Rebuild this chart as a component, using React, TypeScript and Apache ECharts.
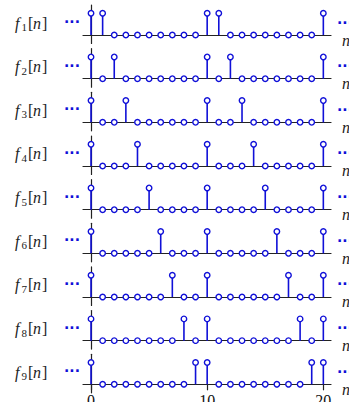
import { useEffect, useRef } from 'react';
import * as echarts from 'echarts';

// sample index n shown on every row
const nValues = [0, 1, 2, 3, 4, 5, 6, 7, 8, 9, 10, 11, 12, 13, 14, 15, 16, 17, 18, 19, 20];
// positions of the unit stems for f_1 ... f_9
const stemsF1 = [0, 1, 10, 11, 20];
const stemsF2 = [0, 2, 10, 12, 20];
const stemsF3 = [0, 3, 10, 13, 20];
const stemsF4 = [0, 4, 10, 14, 20];
const stemsF5 = [0, 5, 10, 15, 20];
const stemsF6 = [0, 6, 10, 16, 20];
const stemsF7 = [0, 7, 10, 17, 20];
const stemsF8 = [0, 8, 10, 18, 20];
const stemsF9 = [0, 9, 10, 19, 20];
const rowStems = [stemsF1, stemsF2, stemsF3, stemsF4, stemsF5, stemsF6, stemsF7, stemsF8, stemsF9];
const rowSubscripts = ['1', '2', '3', '4', '5', '6', '7', '8', '9'];
const tickValues = [0, 10, 20];

const BLUE = '#1010d8';
const DARK = '#222';
const SERIF = '"Liberation Serif", "DejaVu Serif", serif';

export default function App() {
  const ref = useRef<HTMLDivElement>(null);
  useEffect(() => {
    if (!ref.current) return;
    const chart = echarts.init(ref.current, null, { renderer: 'svg' });
    const base0 = 35;
    const gap = 43.66;
    const grids: any[] = [];
    const xAxes: any[] = [];
    const yAxes: any[] = [];
    const series: any[] = [];
    const graphics: any[] = [];
    rowStems.forEach((stems, i) => {
      const b = base0 + i * gap;
      const last = i === rowStems.length - 1;
      grids.push({ left: 83, width: 248, top: b - 30, height: 38.5, outerBoundsMode: 'none', containLabel: false });
      xAxes.push({
        type: 'value', gridIndex: i, min: -0.69, max: 20.66,
        axisLine: { show: true, onZero: true, lineStyle: { color: DARK, width: 1.2 } },
        axisTick: last
          ? { show: true, customValues: tickValues, length: 6, lineStyle: { color: DARK, width: 1.2 } }
          : { show: false },
        axisLabel: last
          ? { show: true, customValues: tickValues, margin: 0, fontFamily: SERIF, fontSize: 16, color: '#111' }
          : { show: false },
        splitLine: { show: false },
      });
      yAxes.push({
        type: 'value', gridIndex: i, min: -0.39, max: 1.38,
        axisLine: { show: true, onZero: true, lineStyle: { color: DARK, width: 1.2 } },
        axisTick: { show: false }, axisLabel: { show: false }, splitLine: { show: false },
      });
      const values = nValues.map((n) => [n, stems.includes(n) ? 1 : 0]);
      series.push({
        type: 'custom', xAxisIndex: i, yAxisIndex: i, z: 3,
        data: stems.map((n) => [n, 1]),
        renderItem: (params: any, api: any) => {
          const p0 = api.coord([api.value(0), 0]);
          const p1 = api.coord([api.value(0), api.value(1)]);
          return {
            type: 'line',
            shape: { x1: p0[0], y1: p0[1], x2: p1[0], y2: p1[1] },
            style: { stroke: BLUE, lineWidth: 1.6 },
          };
        },
      });
      series.push({
        type: 'scatter', xAxisIndex: i, yAxisIndex: i, z: 4,
        data: values, symbol: 'circle', symbolSize: 5.5,
        itemStyle: { color: '#fff', borderColor: BLUE, borderWidth: 1.4, opacity: 1 },
      });
      // left label f_k[n]
      const ly = b - 12;
      graphics.push(
        { type: 'text', x: 15, y: ly, style: { text: 'f', font: `italic 16px ${SERIF}`, fill: DARK, verticalAlign: 'middle' } },
        { type: 'text', x: 21.5, y: ly + 4, style: { text: rowSubscripts[i], font: `11px ${SERIF}`, fill: DARK, verticalAlign: 'middle' } },
        { type: 'text', x: 28, y: ly, style: { text: '[', font: `16px ${SERIF}`, fill: DARK, verticalAlign: 'middle' } },
        { type: 'text', x: 33, y: ly, style: { text: 'n', font: `italic 16px ${SERIF}`, fill: DARK, verticalAlign: 'middle' } },
        { type: 'text', x: 42, y: ly, style: { text: ']', font: `16px ${SERIF}`, fill: DARK, verticalAlign: 'middle' } },
        { type: 'text', x: 64, y: b - 13, style: { text: '···', font: `bold 14px "DejaVu Sans", sans-serif`, fill: BLUE, verticalAlign: 'middle' } },
        { type: 'text', x: 337, y: b - 12.5, style: { text: '···', font: `bold 14px "DejaVu Sans", sans-serif`, fill: BLUE, verticalAlign: 'middle' } },
        { type: 'text', x: 342, y: b + 5, style: { text: 'n', font: `italic 16px ${SERIF}`, fill: DARK, verticalAlign: 'middle' } },
      );
    });
    chart.setOption({
      animation: false,
      backgroundColor: '#fff',
      grid: grids,
      xAxis: xAxes,
      yAxis: yAxes,
      series,
      graphic: graphics,
    });
    return () => chart.dispose();
  }, []);
  return <div ref={ref} style={{ position: 'fixed', left: 0, top: 0, width: 349, height: 402 }} />;
}
